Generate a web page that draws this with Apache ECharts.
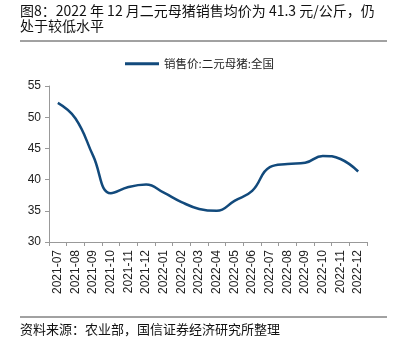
<!DOCTYPE html>
<html>
<head>
<meta charset="utf-8">
<script src="https://cdn.jsdelivr.net/npm/echarts@6/dist/echarts.min.js"></script>
<style>
  html, body { margin: 0; padding: 0; background: #fff; }
  #chart { width: 395px; height: 352px; }
</style>
</head>
<body>
<div id="chart"></div>
<script>
// 月份
const months = [
  '2021-07', '2021-08', '2021-09', '2021-10', '2021-11', '2021-12',
  '2022-01', '2022-02', '2022-03', '2022-04', '2022-05', '2022-06',
  '2022-07', '2022-08', '2022-09', '2022-10', '2022-11', '2022-12'
]
// 二元母猪销售价（元/公斤）
const prices = [
  52.3, 49.8, 43.8, 37.8, 38.8, 39.2,
  37.9, 36.4, 35.3, 35.0, 36.6, 38.2,
  42.0, 42.5, 42.7, 43.8, 43.3, 41.3
]
const yTicks = [30, 35, 40, 45, 50, 55]

const titleText = '图8：2022 年 12 月二元母猪销售均价为 41.3 元/公斤，仍\n处于较低水平'
const sourceText = '资料来源：农业部，国信证券经济研究所整理'
const seriesName = '销售价:二元母猪:全国'

const cjk = '"Noto Sans CJK SC", "Liberation Sans", sans-serif'
const latin = '"Liberation Sans", Arial, sans-serif'

const chart = echarts.init(document.getElementById('chart'))

chart.setOption({
  animation: false,
  title: {
    text: titleText,
    left: 20,
    top: 3,
    padding: 0,
    textStyle: {
      fontFamily: cjk,
      fontSize: 14,
      fontWeight: 'normal',
      color: '#111',
      lineHeight: 15
    }
  },
  legend: {
    data: [seriesName],
    left: 120,
    top: 53,
    itemWidth: 34,
    itemHeight: 3,
    itemGap: 5,
    icon: 'rect',
    textStyle: { fontFamily: cjk, fontSize: 11.5, color: '#222' }
  },
  graphic: [
    {
      type: 'line',
      shape: { x1: 20, y1: 41, x2: 387, y2: 41 },
      style: { stroke: '#444', lineWidth: 1 }
    },
    {
      type: 'line',
      shape: { x1: 20, y1: 317, x2: 387, y2: 317 },
      style: { stroke: '#444', lineWidth: 1 }
    },
    {
      type: 'text',
      left: 20,
      top: 323,
      style: { text: sourceText, font: '13px ' + cjk, fill: '#111' }
    }
  ],
  grid: { left: 49, right: 28, top: 86, bottom: 110 },
  xAxis: {
    type: 'category',
    data: months,
    boundaryGap: true,
    axisLine: { lineStyle: { color: '#999' } },
    axisTick: { show: true, inside: false, length: 4, lineStyle: { color: '#999' } },
    axisLabel: {
      interval: 0,
      rotate: 90,
      margin: 8,
      fontFamily: latin,
      fontSize: 12,
      color: '#222'
    }
  },
  yAxis: {
    type: 'value',
    min: 30,
    max: 55,
    interval: 5,
    axisLine: { show: true, lineStyle: { color: '#999' } },
    axisTick: { show: true, inside: false, length: 4, lineStyle: { color: '#999' } },
    splitLine: { show: false },
    axisLabel: {
      margin: 8,
      fontFamily: latin,
      fontSize: 12,
      color: '#222',
      formatter: v => (yTicks.includes(v) ? String(v) : '')
    }
  },
  series: [
    {
      name: seriesName,
      type: 'line',
      data: prices,
      smooth: 0.45,
      symbol: 'none',
      lineStyle: { color: '#124a7c', width: 2.5 },
      itemStyle: { color: '#124a7c' }
    }
  ]
})
</script>
</body>
</html>
